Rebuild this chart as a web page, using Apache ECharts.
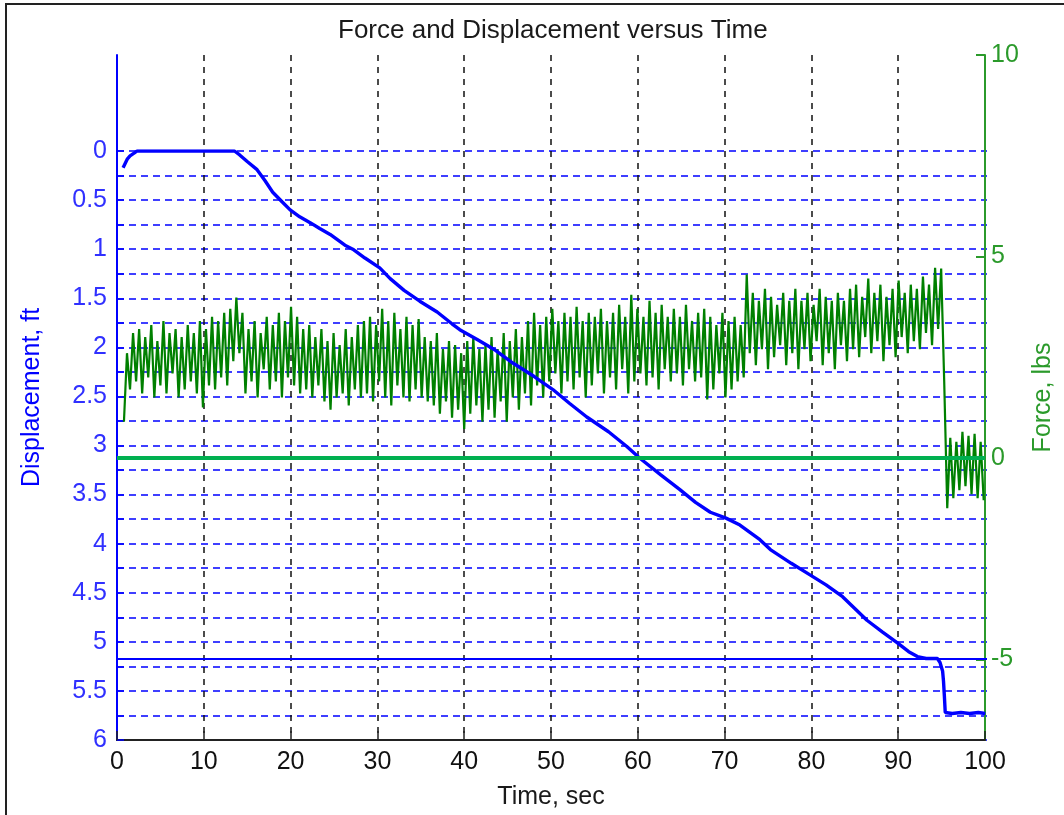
<!DOCTYPE html>
<html>
<head>
<meta charset="utf-8">
<title>Force and Displacement versus Time</title>
<script src="https://cdn.jsdelivr.net/npm/echarts@6/dist/echarts.min.js"></script>
<style>
  html, body { margin: 0; padding: 0; background: #fff; }
  #chart { width: 1064px; height: 815px; }
</style>
</head>
<body>
<div id="chart"></div>
<script>
// ---- data ----
// Displacement (ft) sampled as [time (s), displacement (ft)]
const dispTime = [0.7, 0.9, 1.2, 1.5, 2.0, 2.3, 13.5, 14.1, 15.0, 16.1, 17.0, 17.9, 19.0, 19.9, 21.0, 22.2, 23.3, 24.5, 26.2, 27.1, 28.5, 30.2, 31.4, 33.0, 34.8, 36.8, 38.5, 39.4, 41.4, 43.5, 45.5, 48.0, 50.1, 52.0, 54.0, 56.5, 58.6, 60.1, 62.5, 64.7, 66.5, 68.2, 70.0, 71.6, 73.9, 75.1, 77.5, 79.7, 81.5, 83.4, 84.8, 86.2, 88.0, 89.7, 91.0, 92.0, 93.0, 94.3, 94.6, 94.9, 95.0, 95.1, 95.2, 96.0, 97.0, 98.0, 99.0, 99.8];
const dispValue = [0.17, 0.15, 0.08, 0.05, 0.02, 0.0, 0.0, 0.04, 0.11, 0.19, 0.30, 0.42, 0.52, 0.60, 0.67, 0.73, 0.79, 0.85, 0.96, 1.00, 1.09, 1.19, 1.30, 1.42, 1.53, 1.64, 1.76, 1.82, 1.92, 2.03, 2.16, 2.30, 2.43, 2.57, 2.71, 2.86, 3.01, 3.13, 3.30, 3.45, 3.58, 3.68, 3.74, 3.81, 3.96, 4.06, 4.20, 4.32, 4.42, 4.54, 4.66, 4.78, 4.90, 5.01, 5.10, 5.15, 5.17, 5.17, 5.21, 5.30, 5.40, 5.55, 5.72, 5.73, 5.72, 5.73, 5.72, 5.73];
// Plateau level reached before the final drop (ft)
const dispReference = 5.17;

// Force (lbs), logged every 0.35 s starting at 0.8 s
const forceStart = 0.8;
const forceStep = 0.35;
const forceValue = [
  0.9, 2.6, 1.7, 3.1, 1.9, 3.2, 1.6, 3.0, 2.0, 3.3, 1.5, 2.9, 1.8, 3.4, 1.6, 3.1, 2.1, 3.2, 1.5, 3.0,
  1.7, 3.3, 1.9, 3.1, 1.6, 3.4, 1.25, 3.2, 1.8, 3.5, 1.7, 3.4, 2.0, 3.6, 1.8, 3.7, 2.4, 3.98, 2.6, 3.6,
  1.6, 3.2, 1.9, 3.4, 1.5, 3.1, 2.2, 3.5, 1.7, 3.3, 1.9, 3.6, 1.5, 3.4, 2.0, 3.75, 1.8, 3.5, 1.6, 3.2,
  1.7, 3.3, 1.5, 3.0, 1.8, 3.2, 1.4, 2.9, 1.2, 3.1, 1.5, 2.8, 1.6, 3.2, 1.3, 3.0, 1.7, 3.3, 1.5, 3.4,
  1.6, 3.5, 1.4, 3.3, 1.9, 3.7, 1.5, 3.4, 1.3, 3.6, 1.8, 3.2, 1.5, 3.5, 1.4, 3.3, 1.7, 3.45, 1.5, 3.0,
  1.4, 2.9, 1.3, 3.1, 1.1, 2.7, 1.4, 2.9, 1.0, 2.8, 1.2, 2.6, 0.72, 2.9, 1.1, 3.0, 1.3, 2.7, 0.9, 2.8,
  1.2, 3.0, 1.0, 2.7, 1.4, 3.1, 0.9, 2.9, 1.5, 3.2, 1.2, 3.0, 1.6, 3.4, 1.3, 3.6, 1.8, 3.3, 1.5, 3.5,
  1.9, 3.7, 2.1, 3.4, 1.6, 3.6, 1.9, 3.5, 1.7, 3.75, 2.0, 3.4, 1.5, 3.6, 1.8, 3.5, 2.1, 3.7, 1.6, 3.4,
  2.0, 3.6, 1.7, 3.8, 2.2, 3.5, 1.6, 4.05, 1.9, 3.7, 2.1, 3.5, 1.8, 3.9, 2.0, 3.6, 1.7, 3.8, 2.2, 3.5,
  1.9, 3.7, 2.1, 3.5, 1.8, 3.8, 2.2, 3.4, 1.9, 3.6, 2.0, 3.7, 1.45, 3.5, 1.7, 3.3, 2.1, 3.6, 1.5, 3.4,
  1.7, 3.5, 1.9, 3.3, 2.0, 4.55, 2.6, 4.1, 2.3, 3.9, 2.7, 4.2, 2.2, 4.0, 2.5, 3.8, 2.8, 4.1, 2.3, 3.9,
  2.6, 4.2, 2.2, 3.9, 2.7, 4.1, 2.4, 3.8, 2.9, 4.2, 2.3, 4.0, 2.6, 3.9, 2.2, 4.1, 2.8, 3.9, 2.4, 4.2,
  2.7, 4.3, 2.5, 4.0, 3.0, 4.45, 2.6, 4.1, 2.9, 4.3, 2.4, 4.0, 2.8, 4.2, 2.5, 4.4, 3.0, 4.1, 2.6, 4.3,
  2.9, 4.2, 2.7, 4.5, 3.1, 4.3, 2.8, 4.72, 3.2, 4.7, 1.9,
  -1.25, 0.5, -1.0, 0.4, -0.8, 0.65, -0.7, 0.55, -0.9, 0.6, -1.0, 0.4, -1.05
];

// Axis ticks
const timeTicks = [0, 10, 20, 30, 40, 50, 60, 70, 80, 90, 100];
const forceTicks = [-5, 0, 5, 10];

const dispData = dispTime.map((t, i) => [t, dispValue[i]]);
const forceData = forceValue.map((v, i) => [+(forceStart + i * forceStep).toFixed(2), v]);

// ---- styling ----
const FONT = '"Liberation Sans", Arial, sans-serif';
const BLUE = '#0000ff';
const LABEL_BLUE = '#3030ff';
const GREEN = '#2b9a2b';
const FORCE_GREEN = '#008000';
const ZERO_GREEN = '#00b050';
const FS = 25;
const NAME_FS = 25;

const chart = echarts.init(document.getElementById('chart'), null, { renderer: 'canvas' });

const plotLeft = 117, plotRight = 77, plotTop = 55, plotBottom = 75;

chart.setOption({
  animation: false,
  backgroundColor: '#fff',
  textStyle: { fontFamily: FONT },
  title: {
    text: 'Force and Displacement versus Time',
    left: 333,
    top: 13,
    textStyle: { fontFamily: FONT, fontSize: 26, fontWeight: 'normal', color: '#1a1a1a' }
  },
  graphic: [{
    type: 'rect',
    silent: true,
    shape: { x: 6, y: 4, width: 1080, height: 840 },
    style: { fill: 'none', stroke: '#222', lineWidth: 2 }
  }],
  grid: [
    // displacement grid: 0 ft at the top gridline down to 6 ft at the time axis
    { left: plotLeft, right: plotRight, top: 151, bottom: plotBottom },
    // full plot box
    { left: plotLeft, right: plotRight, top: plotTop, bottom: plotBottom }
  ],
  xAxis: [
    {
      gridIndex: 0, type: 'value', min: 0, max: 100, show: false
    },
    {
      gridIndex: 1, type: 'value', min: 0, max: 100, interval: 10,
      name: 'Time, sec', nameLocation: 'middle', nameGap: 45,
      nameTextStyle: { fontFamily: FONT, fontSize: NAME_FS, color: '#1a1a1a' },
      axisLine: { show: true, onZero: false, lineStyle: { color: '#222', width: 2 } },
      axisTick: { show: true, inside: true, length: 9, customValues: timeTicks, lineStyle: { color: '#222', width: 1.5 } },
      axisLabel: { show: true, margin: 10, fontFamily: FONT, fontSize: FS, color: '#111', customValues: timeTicks },
      splitLine: { show: true, lineStyle: { color: '#111', width: 1.5, type: [6, 6] } }
    }
  ],
  yAxis: [
    {
      // displacement scale
      gridIndex: 0, type: 'value', inverse: true, min: 0, max: 6, interval: 0.25,
      axisLine: { show: true, lineStyle: { color: BLUE, width: 2 } },
      axisTick: { show: true, inside: true, length: 7, lineStyle: { color: BLUE, width: 1.5 } },
      axisLabel: {
        show: true, margin: 10, fontFamily: FONT, fontSize: FS, color: LABEL_BLUE,
        formatter: v => (Math.abs(v * 2 - Math.round(v * 2)) < 1e-6 ? String(v) : '')
      },
      splitLine: { show: true, lineStyle: { color: BLUE, width: 1.5, type: [7, 5] } }
    },
    {
      // left spine over the full plot height, carries the axis title
      gridIndex: 1, type: 'value', min: 0, max: 1, position: 'left',
      name: 'Displacement, ft', nameLocation: 'middle', nameGap: 72, nameRotate: 90,
      nameTextStyle: { fontFamily: FONT, fontSize: NAME_FS, color: BLUE },
      axisLine: { show: true, lineStyle: { color: BLUE, width: 2 } },
      axisTick: { show: false }, axisLabel: { show: false }, splitLine: { show: false }
    },
    {
      // force scale on the right
      gridIndex: 1, type: 'value', min: -7, max: 10, position: 'right',
      name: 'Force, lbs', nameLocation: 'middle', nameGap: 46, nameRotate: 90,
      nameTextStyle: { fontFamily: FONT, fontSize: NAME_FS, color: GREEN },
      axisLine: { show: true, onZero: false, lineStyle: { color: GREEN, width: 2 } },
      axisTick: { show: true, inside: true, length: 9, customValues: forceTicks, lineStyle: { color: GREEN, width: 2 } },
      axisLabel: { show: true, margin: 6, fontFamily: FONT, fontSize: FS, color: GREEN, customValues: forceTicks },
      splitLine: { show: false }
    }
  ],
  series: [
    {
      name: 'Force',
      type: 'line',
      xAxisIndex: 1, yAxisIndex: 2,
      data: forceData,
      showSymbol: false, symbol: 'none',
      lineStyle: { color: FORCE_GREEN, width: 2.2 },
      z: 3,
      markLine: {
        silent: true, symbol: 'none', label: { show: false },
        lineStyle: { color: ZERO_GREEN, width: 4, type: 'solid' },
        data: [{ yAxis: 0 }]
      }
    },
    {
      name: 'Displacement',
      type: 'line',
      xAxisIndex: 0, yAxisIndex: 0,
      data: dispData,
      showSymbol: false, symbol: 'none',
      lineStyle: { color: BLUE, width: 3.4 },
      z: 4,
      markLine: {
        silent: true, symbol: 'none', label: { show: false },
        lineStyle: { color: BLUE, width: 2, type: 'solid' },
        data: [{ yAxis: dispReference }]
      }
    }
  ]
});
</script>
</body>
</html>
